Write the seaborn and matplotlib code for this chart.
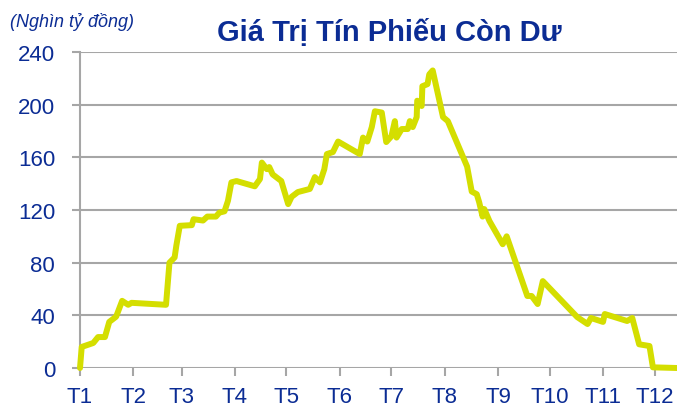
import pandas as pd
import seaborn as sns
import matplotlib.pyplot as plt

# days counted from 1 Jan, values in nghìn tỷ đồng
days = [0, 1, 7.7, 10.5, 14.5, 17, 21, 24.5, 28, 30, 50, 52, 55, 56, 58, 65, 66,
        71.5, 74, 79, 81, 84, 86, 87, 88, 91, 101.6, 104.6, 105.7, 108.6, 110,
        112, 117, 121, 123, 126.6, 133.6, 136.5, 139.5, 142, 143.5, 147, 150,
        162.6, 164.5, 167, 169.6, 171.4, 175.4, 178, 181, 183, 184, 187, 190.5,
        191.7, 193.4, 195.7, 196, 198.6, 199, 202, 203, 205, 211, 213.8, 225,
        227.7, 230.6, 232, 234, 235, 238, 245.7, 248, 260, 262.5, 266, 269, 289,
        295, 297, 304, 305, 318, 321, 325, 331, 333, 347]
values = [0, 16, 19, 23.5, 23.5, 35, 39, 51, 48, 49.5, 48, 80, 84, 93, 108, 108.5,
          113, 112, 115, 115, 118, 119, 127, 134, 141, 142, 138, 143.5, 156, 151,
          152.6, 147, 142, 124.5, 130, 133.6, 136, 145, 141, 151, 162.5, 164, 172,
          162.5, 175, 172, 183, 195, 194, 171.6, 176, 187.5, 175, 181.5, 181.5,
          187.5, 183, 190.6, 203, 199, 214, 215.6, 223, 226, 190.6, 187.5, 153,
          134, 132, 126, 115, 120.7, 111.6, 94, 100, 54.7, 54.7, 48.6, 66, 38.7,
          33.4, 38, 35, 41, 35.7, 38, 18, 16.7, 0.5, 0]

month_starts = [0, 31, 59, 90, 120, 151, 181, 212, 243, 273, 304, 334]
month_labels = ["T1", "T2", "T3", "T4", "T5", "T6", "T7", "T8", "T9", "T10", "T11", "T12"]
y_ticks = [0, 40, 80, 120, 160, 200, 240]

NAVY = "#0B2C94"
GRID = "#A6A6A6"

sns.set_theme(style="white")
plt.rcParams["font.family"] = ["Liberation Sans", "DejaVu Sans"]

df = pd.DataFrame({"day": days, "value": values})

fig = plt.figure(figsize=(6.77, 4.10), dpi=100)
ax = fig.add_axes([80 / 677, 41 / 410, 597 / 677, 316 / 410])

sns.lineplot(data=df, x="day", y="value", ax=ax, color="#D4DE00", linewidth=4.3,
             estimator=None, sort=False, clip_on=False, zorder=3)

ax.set_xlim(0, 347)
ax.set_ylim(0, 240)
ax.set_xticks(month_starts)
ax.set_xticklabels(month_labels)
ax.set_yticks(y_ticks)
ax.set_xlabel("")
ax.set_ylabel("")

ax.grid(axis="y", color=GRID, linewidth=1.5)
ax.set_axisbelow(True)
for side in ["top", "right", "bottom"]:
    ax.spines[side].set_visible(False)
ax.spines["left"].set_color(GRID)
ax.spines["left"].set_linewidth(1.5)

ax.tick_params(axis="y", left=True, length=6, width=1.5, color=GRID, pad=12,
               labelsize=16, labelcolor=NAVY)
ax.tick_params(axis="x", bottom=True, length=6, width=1.5, color=GRID, pad=7,
               labelsize=16, labelcolor=NAVY)

fig.text(389 / 677, 1 - 33 / 410, "Giá Trị Tín Phiếu Còn Dư", ha="center", va="center",
         fontsize=21, fontweight="bold", color=NAVY)
fig.text(10 / 677, 1 - 22 / 410, "(Nghìn tỷ đồng)", ha="left", va="center",
         fontsize=13, style="italic", color=NAVY)

fig.savefig("out.png", dpi=100)
